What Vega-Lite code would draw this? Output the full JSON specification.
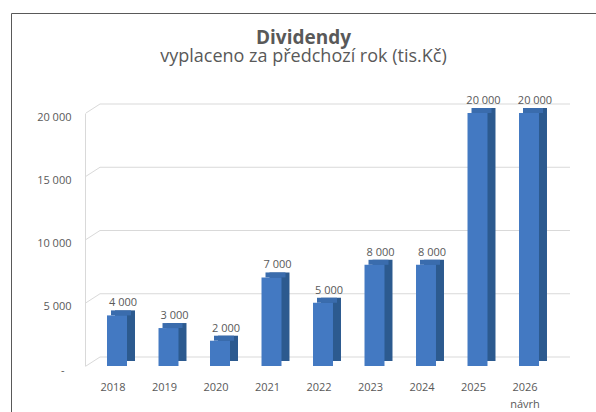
{
  "$schema": "https://vega.github.io/schema/vega-lite/v6.json",
  "autosize": {"type": "none"},
  "width": 585,
  "height": 399,
  "padding": {"left": 11, "top": 13, "right": 0, "bottom": 0},
  "background": "white",
  "config": {
    "font": "Open Sans",
    "view": {"stroke": "#595959", "strokeWidth": 1},
    "locale": {"number": {"decimal": ",", "thousands": "\u00a0", "grouping": [3], "currency": ["", " Kč"]}}
  },
  "title": {
    "text": "Dividendy",
    "subtitle": "vyplaceno za předchozí rok (tis.Kč)",
    "anchor": "middle",
    "frame": "group",
    "offset": -53,
    "fontSize": 19,
    "fontWeight": "bold",
    "color": "#595959",
    "subtitleFontSize": 18,
    "subtitleColor": "#595959",
    "subtitlePadding": 0
  },
  "datasets": {
    "divs": [
      {"rok": "2018", "dividenda": 4000},
      {"rok": "2019", "dividenda": 3000},
      {"rok": "2020", "dividenda": 2000},
      {"rok": "2021", "dividenda": 7000},
      {"rok": "2022", "dividenda": 5000},
      {"rok": "2023", "dividenda": 8000},
      {"rok": "2024", "dividenda": 8000},
      {"rok": "2025", "dividenda": 20000},
      {"rok": "2026", "dividenda": 20000}
    ],
    "grid": [
      {"v": 0, "first": "2018", "last": "2026"},
      {"v": 5000, "first": "2018", "last": "2026"},
      {"v": 10000, "first": "2018", "last": "2026"},
      {"v": 15000, "first": "2018", "last": "2026"},
      {"v": 20000, "first": "2018", "last": "2026"}
    ]
  },
  "layer": [
    {
      "data": {"name": "grid"},
      "mark": {"type": "rule", "color": "#d9d9d9", "strokeWidth": 1, "xOffset": -3, "x2Offset": 45, "yOffset": -9, "y2Offset": -9},
      "encoding": {
        "x": {"field": "first", "type": "nominal", "bandPosition": 0},
        "x2": {"field": "last", "bandPosition": 0.5},
        "y": {"field": "v", "type": "quantitative"},
        "y2": {"field": "v"}
      }
    },
    {
      "data": {"name": "grid"},
      "mark": {"type": "rule", "color": "#d9d9d9", "strokeWidth": 1, "xOffset": -17, "x2Offset": -13, "yOffset": 0, "y2Offset": -9},
      "encoding": {
        "x": {"field": "first", "type": "nominal", "bandPosition": 0},
        "x2": {"field": "first", "bandPosition": 0.5},
        "y": {"field": "v", "type": "quantitative"},
        "y2": {"field": "v"}
      }
    },
    {
      "data": {"name": "divs"},
      "mark": {"type": "bar", "color": "#2c5a8f", "xOffset": 12, "yOffset": -5, "y2Offset": -5},
      "encoding": {
        "x": {"field": "rok", "type": "nominal"},
        "y": {"field": "dividenda", "type": "quantitative"}
      }
    },
    {
      "data": {"name": "divs"},
      "mark": {"type": "bar", "color": "#3a6cad", "xOffset": 8, "yOffset": -5, "y2Offset": 0},
      "encoding": {
        "x": {"field": "rok", "type": "nominal"},
        "y": {"field": "dividenda", "type": "quantitative"},
        "y2": {"field": "dividenda"}
      }
    },
    {
      "data": {"name": "divs"},
      "mark": {"type": "bar", "color": "#4379c2", "xOffset": 4},
      "encoding": {
        "x": {
          "field": "rok",
          "type": "nominal",
          "sort": null,
          "scale": {"range": [76.25, 539.75], "paddingInner": 0.612, "paddingOuter": 0.306},
          "axis": {
            "title": null,
            "orient": "bottom",
            "offset": -34,
            "bandPosition": 0.5,
            "domain": false,
            "ticks": false,
            "grid": false,
            "labelPadding": 9,
            "labelAngle": 0,
            "labelAlign": "center",
            "labelFontSize": 11,
            "labelColor": "#595959",
            "labelLineHeight": 17,
            "labelExpr": "datum.value == '2026' ? ['2026', 'návrh'] : datum.value"
          }
        },
        "y": {
          "field": "dividenda",
          "type": "quantitative",
          "scale": {"domain": [0, 20000], "range": [353, 100], "nice": false},
          "axis": {
            "title": null,
            "orient": "left",
            "offset": -74,
            "domain": true,
            "domainColor": "#d9d9d9",
            "ticks": false,
            "grid": false,
            "values": [0, 5000, 10000, 15000, 20000],
            "labelPadding": {"condition": {"test": "datum.value == 0", "value": 21}, "value": 14},
            "labelOffset": 4,
            "labelFontSize": 11,
            "labelColor": "#595959",
            "labelExpr": "datum.value == 0 ? '-' : format(datum.value, ',')"
          }
        }
      }
    },
    {
      "data": {"name": "divs"},
      "mark": {"type": "text", "baseline": "bottom", "align": "center", "dx": 10, "dy": -7, "fontSize": 11, "color": "#595959"},
      "encoding": {
        "x": {"field": "rok", "type": "nominal"},
        "y": {"field": "dividenda", "type": "quantitative"},
        "text": {"field": "dividenda", "type": "quantitative", "format": ","}
      }
    }
  ]
}
